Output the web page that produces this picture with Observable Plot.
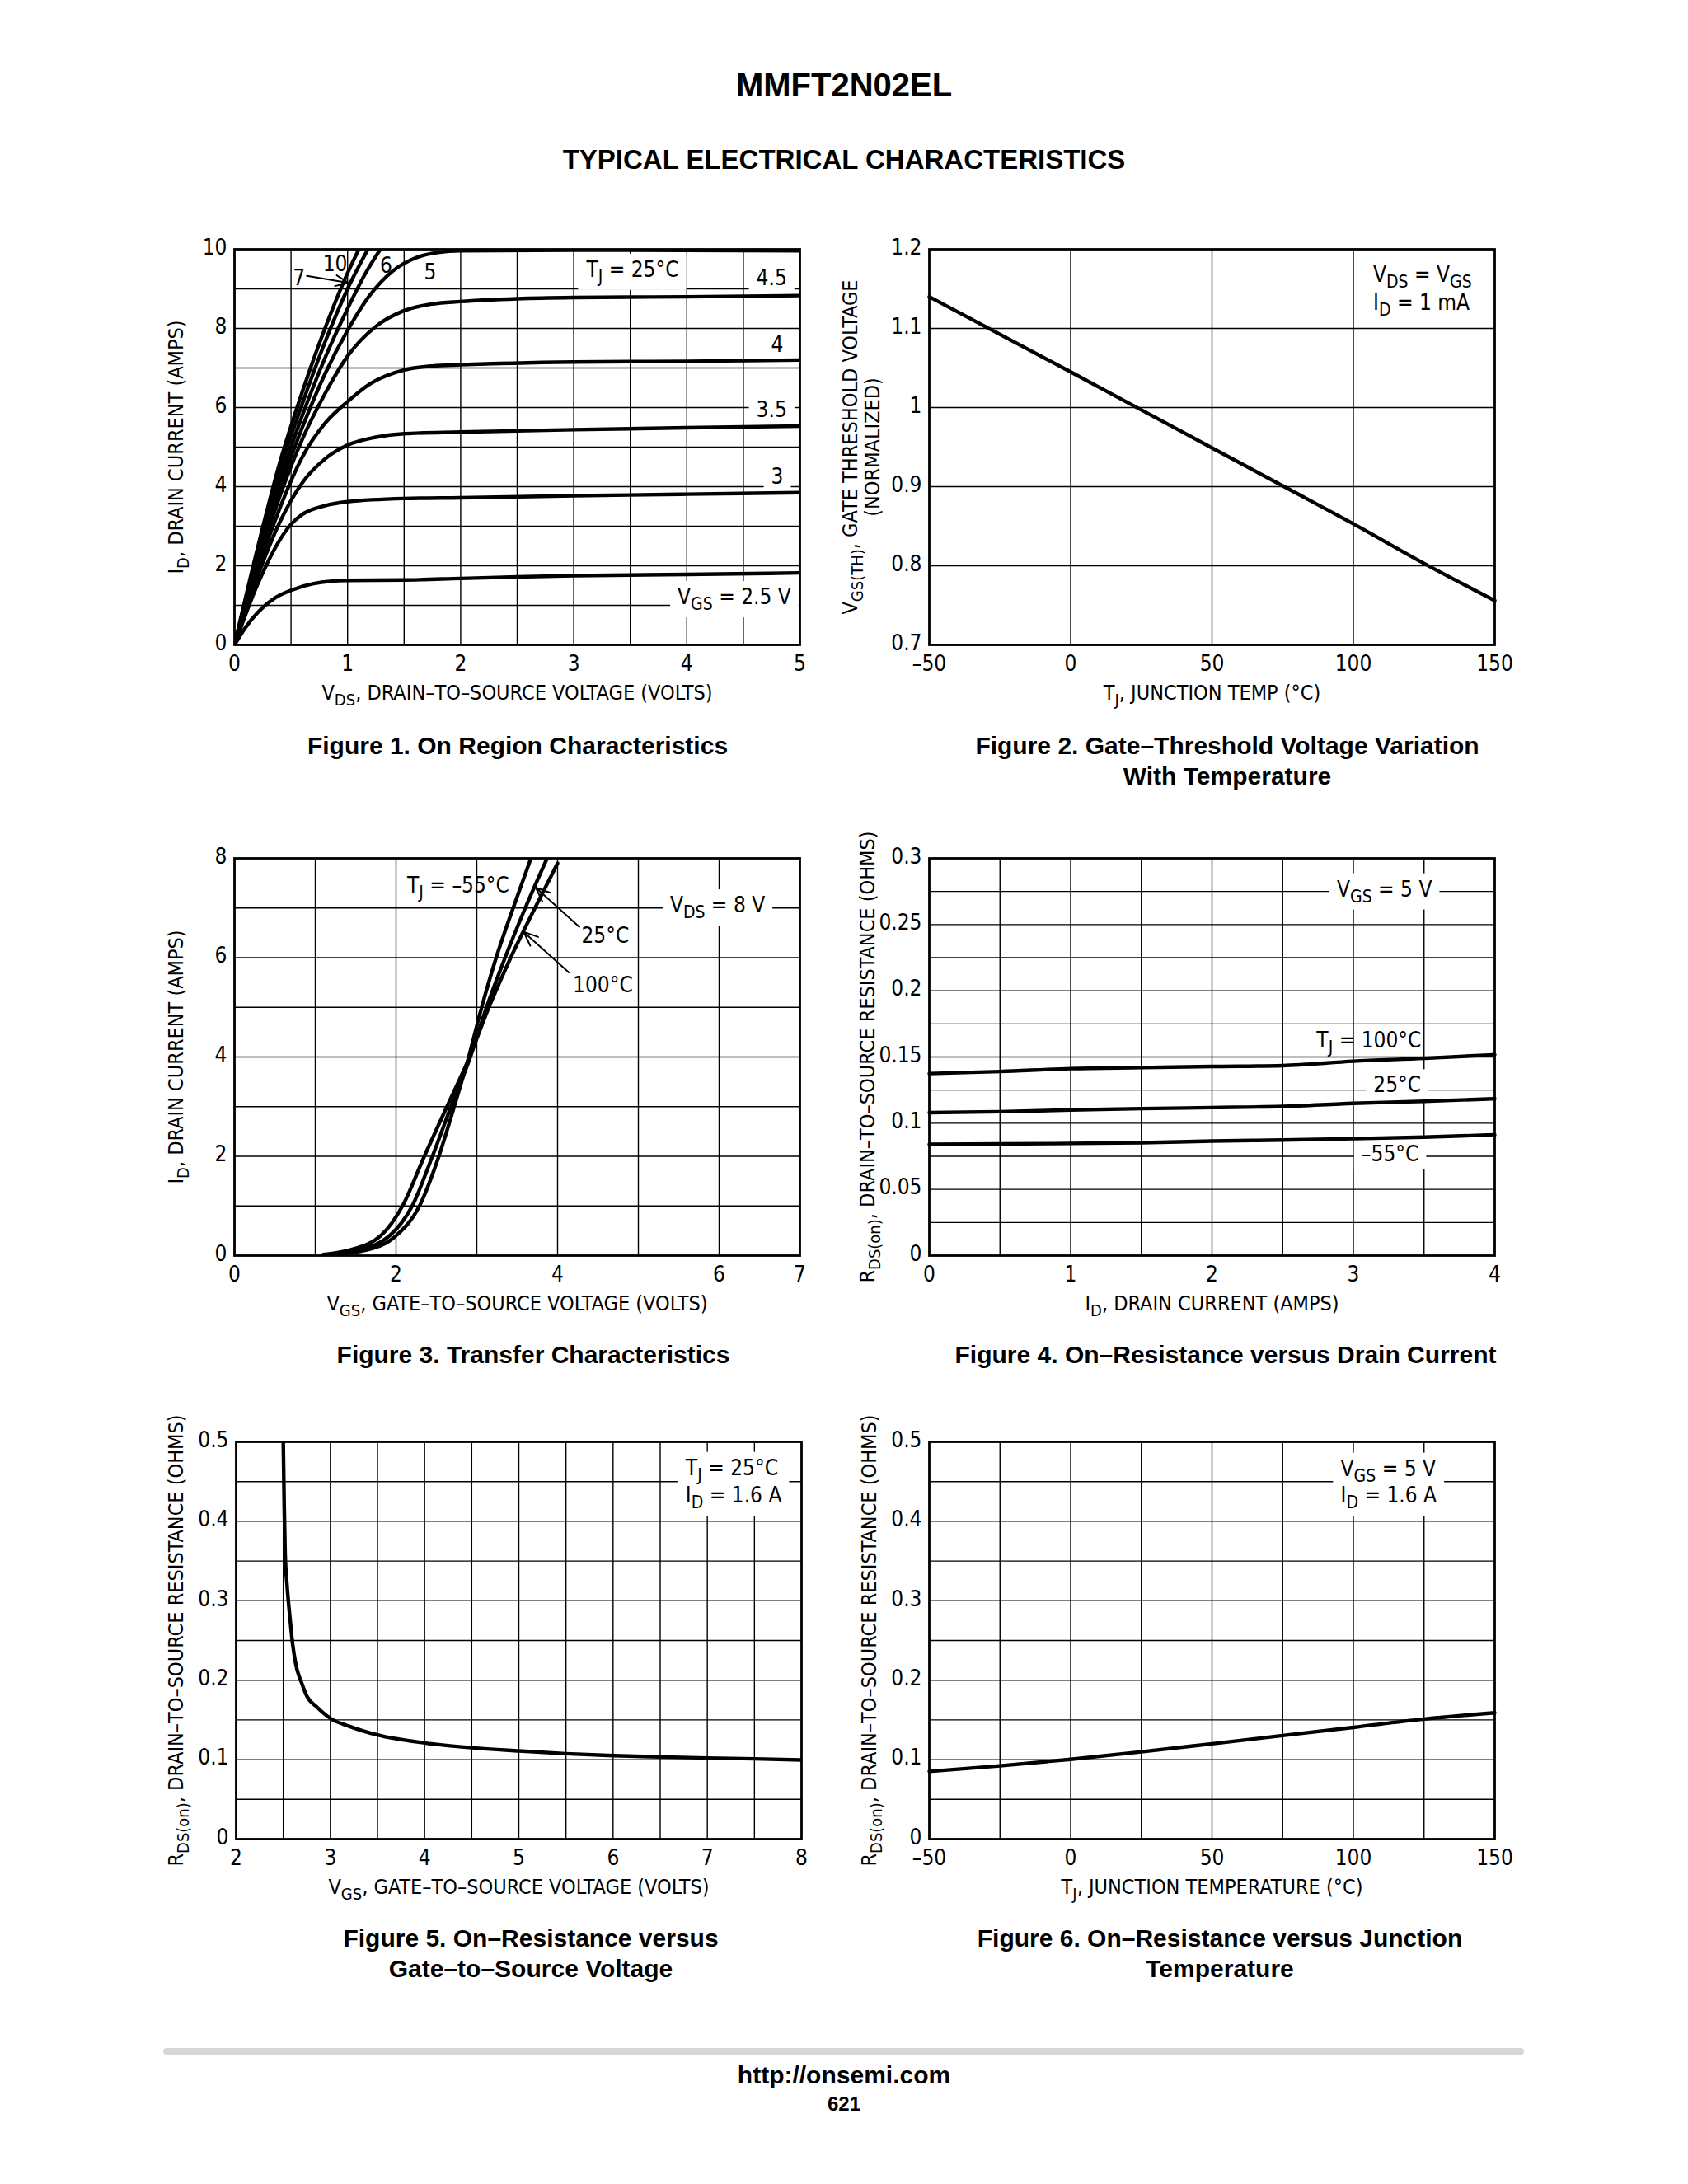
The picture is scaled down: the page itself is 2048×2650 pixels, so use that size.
<!DOCTYPE html>
<html><head><meta charset="utf-8">
<script src="https://cdn.jsdelivr.net/npm/d3@7"></script>
<script src="https://cdn.jsdelivr.net/npm/@observablehq/plot@0.6"></script>
<style>
body{margin:0;background:#fff;}
#page{position:relative;width:2048px;height:2650px;background:#fff;font-family:"Liberation Sans",Arial,Helvetica,sans-serif;color:#000;overflow:hidden;}
.ht{position:absolute;font-weight:bold;text-align:center;white-space:nowrap;transform:translateX(-50%);}
.chart{position:absolute;}
.chart svg{overflow:visible;display:block;}
</style></head><body><div id="page"></div>
<script>
// ---------- Figure 1 : On region characteristics (VDS, ID) per VGS ----------
const f1Series = ["10","7","6","5","4.5","4","3.5","3","2.5"];
const f1_10 = [[0,0],[0.2,2.4],[0.4,4.6],[0.6,6.4],[0.8,8.0],[1.0,9.4],[1.1,10]];
const f1_7  = [[0,0],[0.2,2.3],[0.4,4.4],[0.6,6.1],[0.8,7.65],[1.0,9.0],[1.18,10]];
const f1_6  = [[0,0],[0.2,2.2],[0.4,4.15],[0.6,5.8],[0.8,7.25],[1.0,8.5],[1.15,9.35],[1.29,10]];
const f1_5  = [[0,0],[0.2,2.1],[0.4,3.95],[0.6,5.5],[0.8,6.85],[1.0,7.95],[1.2,8.85],[1.4,9.45],[1.6,9.78],[1.8,9.92],[2.0,9.96],[3,9.98],[5,9.96]];
const f1_45 = [[0,0],[0.2,2.0],[0.4,3.75],[0.6,5.2],[0.8,6.35],[1.0,7.3],[1.25,8.05],[1.5,8.45],[1.75,8.62],[2,8.68],[2.5,8.75],[3,8.78],[4,8.8],[5,8.83]];
const f1_4  = [[0,0],[0.2,1.85],[0.4,3.45],[0.6,4.75],[0.8,5.6],[1.0,6.15],[1.2,6.6],[1.5,6.95],[1.75,7.05],[2,7.08],[3,7.15],[4,7.17],[5,7.2]];
const f1_35 = [[0,0],[0.2,1.7],[0.4,3.1],[0.6,4.1],[0.8,4.7],[1.0,5.05],[1.25,5.25],[1.5,5.34],[2,5.38],[3,5.44],[4,5.49],[5,5.53]];
const f1_3  = [[0,0],[0.2,1.5],[0.4,2.65],[0.5,3.05],[0.6,3.3],[0.8,3.52],[1.0,3.62],[1.5,3.7],[2,3.72],[3,3.77],[4,3.81],[5,3.85]];
const f1_25 = [[0,0],[0.1,0.45],[0.2,0.8],[0.36,1.19],[0.5,1.38],[0.7,1.55],[1.0,1.63],[1.5,1.64],[2,1.68],[2.5,1.72],[3,1.75],[4,1.78],[5,1.82]];
const f1Curves = [f1_10,f1_7,f1_6,f1_5,f1_45,f1_4,f1_35,f1_3,f1_25];
const f1XTicks = [0,1,2,3,4,5];
const f1YTicks = [0,2,4,6,8,10];
const f1XGrid = [0.5,1,1.5,2,2.5,3,3.5,4,4.5];
const f1YGrid = [1,2,3,4,5,6,7,8,9];
const f1Labels = [
  {x:0.89,y:9.62,t:"10",h:false},{x:0.57,y:9.26,t:"7",h:false},{x:1.34,y:9.57,t:"6",h:false},
  {x:1.73,y:9.42,t:"5",h:false},{x:3.52,y:9.48,t:"T_{J} = 25°C",h:true},{x:4.75,y:9.27,t:"4.5",h:true},
  {x:4.8,y:7.57,t:"4",h:false},{x:4.75,y:5.93,t:"3.5",h:true},{x:4.8,y:4.25,t:"3",h:true},
  {x:4.42,y:1.2,t:"V_{GS} = 2.5 V",h:true}];
const f1Arrows = [{x1:0.64,y1:9.33,x2:1.01,y2:9.15}];

// ---------- Figure 2 : Gate threshold vs temperature ----------
const f2Tj  = [-50,0,25,50,75,100,125,150];
const f2Vth = [1.14,1.045,0.997,0.949,0.901,0.853,0.803,0.756];
const f2XTicks = [-50,0,50,100,150];
const f2YTicks = [0.7,0.8,0.9,1,1.1,1.2];
const f2XGrid = [0,50,100];
const f2YGrid = [0.8,0.9,1,1.1];
const f2Labels = [{x:107,y:1.168,t:"V_{DS} = V_{GS}",h:false},{x:107,y:1.132,t:"I_{D} = 1 mA",h:false}];

// ---------- Figure 3 : Transfer characteristics ----------
const f3Series = ["100°C","25°C","−55°C"];
const f3_100 = [[1.1,0.02],[1.4,0.1],[1.81,0.4],[2.08,1],[2.35,2],[2.63,3],[2.91,4],[3.15,5],[3.42,6],[3.72,7],[4.0,7.9]];
const f3_25  = [[1.15,0.02],[1.5,0.1],[1.92,0.4],[2.2,1],[2.45,2],[2.68,3],[2.92,4],[3.12,5],[3.35,6],[3.6,7],[3.87,8]];
const f3_m55 = [[1.2,0.02],[1.6,0.1],[2.0,0.4],[2.29,1],[2.53,2],[2.72,3],[2.9,4],[3.06,5],[3.24,6],[3.45,7],[3.67,8]];
const f3Curves = [f3_100,f3_25,f3_m55];
const f3XTicks = [0,2,4,6,7];
const f3YTicks = [0,2,4,6,8];
const f3XGrid = [1,2,3,4,5,6];
const f3YGrid = [1,2,3,4,5,6,7];
const f3Labels = [{x:2.77,y:7.45,t:"T_{J} = –55°C",h:false},{x:4.59,y:6.43,t:"25°C",h:false},
  {x:4.56,y:5.44,t:"100°C",h:false},{x:5.98,y:7.05,t:"V_{DS} = 8 V",h:true}];
const f3Arrows = [{x1:4.27,y1:6.62,x2:3.73,y2:7.41},{x1:4.14,y1:5.7,x2:3.58,y2:6.52}];

// ---------- Figure 4 : On-resistance vs drain current ----------
const f4Id   = [0,0.5,1,1.5,2,2.5,3,3.5,4];
const f4_100 = [0.1375,0.139,0.1412,0.142,0.1428,0.1435,0.1468,0.149,0.1517];
const f4_25  = [0.108,0.1087,0.110,0.111,0.1118,0.1127,0.115,0.1165,0.1185];
const f4_m55 = [0.084,0.0843,0.0847,0.0853,0.0865,0.0873,0.0883,0.0895,0.0912];
const f4XTicks = [0,1,2,3,4];
const f4YTicks = [0,0.05,0.1,0.15,0.2,0.25,0.3];
const f4XGrid = [0.5,1,1.5,2,2.5,3,3.5];
const f4YGrid = [0.025,0.05,0.075,0.1,0.125,0.15,0.175,0.2,0.225,0.25,0.275];
const f4Labels = [{x:3.22,y:0.2765,t:"V_{GS} = 5 V",h:true},{x:3.11,y:0.1625,t:"T_{J} = 100°C",h:false},
  {x:3.31,y:0.1285,t:"25°C",h:true},{x:3.26,y:0.0765,t:"–55°C",h:true}];

// ---------- Figure 5 : On-resistance vs gate-to-source voltage ----------
const f5Vgs = [2.5,2.51,2.52,2.54,2.57,2.6,2.63,2.7,2.75,2.85,3.0,3.2,3.5,4,4.5,5,5.5,6,6.5,7,7.5,8];
const f5R   = [0.5,0.42,0.36,0.32,0.28,0.245,0.222,0.195,0.18,0.167,0.152,0.142,0.131,0.121,0.115,0.111,0.1075,0.105,0.1035,0.102,0.101,0.0995];
const f5XTicks = [2,3,4,5,6,7,8];
const f5YTicks = [0,0.1,0.2,0.3,0.4,0.5];
const f5XGrid = [2.5,3,3.5,4,4.5,5,5.5,6,6.5,7,7.5];
const f5YGrid = [0.05,0.1,0.15,0.2,0.25,0.3,0.35,0.4,0.45];
const f5Labels = [{x:6.77,y:0.467,t:"T_{J} = 25°C",h:true},{x:6.77,y:0.432,t:"I_{D} = 1.6 A",h:true}];

// ---------- Figure 6 : On-resistance vs junction temperature ----------
const f6Tj = [-50,-25,0,25,50,75,100,125,150];
const f6R  = [0.0852,0.0922,0.1004,0.1098,0.12,0.1303,0.1406,0.151,0.159];
const f6XTicks = [-50,0,50,100,150];
const f6YTicks = [0,0.1,0.2,0.3,0.4,0.5];
const f6XGrid = [-25,0,25,50,75,100,125];
const f6YGrid = [0.05,0.1,0.15,0.2,0.25,0.3,0.35,0.4,0.45];
const f6Labels = [{x:95.5,y:0.466,t:"V_{GS} = 5 V",h:true},{x:95.5,y:0.432,t:"I_{D} = 1.6 A",h:true}];

// ---------- page text ----------
const pageTitle = "MMFT2N02EL";
const pageSubtitle = "TYPICAL ELECTRICAL CHARACTERISTICS";
const captions = [
  ["Figure 1. On Region Characteristics"],
  ["Figure 2. Gate–Threshold Voltage Variation","With Temperature"],
  ["Figure 3. Transfer Characteristics"],
  ["Figure 4. On–Resistance versus Drain Current"],
  ["Figure 5. On–Resistance versus","Gate–to–Source Voltage"],
  ["Figure 6. On–Resistance versus Junction","Temperature"]];
const footer = ["http://onsemi.com","621"];

// ---------- rendering ----------
const page = document.getElementById("page");
const NS = "http://www.w3.org/2000/svg";
const CF = '"Liberation Sans Narrow","Arial Narrow","DejaVu Sans Condensed","Liberation Sans",Arial,sans-serif';
const FS = 26, TFS = 25;
const M = {l:140, r:40, t:60, b:100};
const fmt = d => d < 0 ? "–" + (-d) : String(d);
const rdsLabel = "R_{DS(on)}, DRAIN–TO–SOURCE RESISTANCE (OHMS)";

function subs(svg){
  svg.querySelectorAll("text").forEach(t=>{
    const targets = t.querySelector("tspan") ? [...t.querySelectorAll("tspan")] : [t];
    targets.forEach(el=>{
      const s = el.textContent; if(!s.includes("_{")) return;
      const fs = parseFloat(getComputedStyle(el).fontSize) || FS;
      const sh = Math.round(fs*0.27), sfs = Math.round(fs*0.8);
      el.textContent = "";
      const parts = s.split(/(_\{[^}]*\})/).filter(p=>p.length);
      let shifted = false;
      for(const p of parts){
        const ts = document.createElementNS(NS,"tspan");
        if(p.startsWith("_{")){ ts.textContent=p.slice(2,-1); ts.setAttribute("font-size",sfs); ts.setAttribute("dy",sh); shifted=true; }
        else { ts.textContent=p; if(shifted){ ts.setAttribute("dy",-sh); shifted=false; } }
        el.appendChild(ts);
      }
    });
  });
}
// white boxes behind labels that sit on grid lines (as in the datasheet):
// the white "halo" copy of each such label is swapped for a rectangle of its own bounding box
function boxes(svg){
  const halos = [...svg.querySelectorAll("text")].filter(t => {
    const f = getComputedStyle(t).fill;
    return f === "rgb(255, 255, 255)" || f === "white" || f === "#ffffff";
  });
  halos.forEach(t=>{
    let b; try { b = t.getBBox(); } catch(e) { return; }
    if (!b || !b.width) return;
    const r = document.createElementNS(NS,"rect");
    r.setAttribute("x", b.x-9); r.setAttribute("y", b.y-4);
    r.setAttribute("width", b.width+18); r.setAttribute("height", b.height+8);
    r.setAttribute("fill","white"); r.setAttribute("stroke","none");
    const tr = t.getAttribute("transform"); if(tr) r.setAttribute("transform", tr);
    t.parentNode.insertBefore(r, t);
    t.remove();
  });
}

function labelMarks(labels, anchor){
  const o = {x:"x", y:"y", text:"t", fontSize:FS, textAnchor:anchor||"middle"};
  return [
    Plot.text(labels.filter(d=>d.h), {...o, fill:"white", stroke:"white", strokeWidth:16, ariaLabel:"halo"}),
    Plot.text(labels, {...o, fill:"#000"})
  ];
}

function chart(c){
  const W = c.R - c.L, H = c.B - c.T;
  const gs = {stroke:"#000", strokeOpacity:1, strokeWidth:1.4};
  const lm = labelMarks(c.labels, c.anchor);
  const marks = [
    Plot.gridX(c.xGrid, gs),
    Plot.gridY(c.yGrid, gs),
    lm[0],
    ...c.marks,
    lm[1],
    Plot.frame({stroke:"#000", strokeWidth:2.8}),
    Plot.axisX({ticks:c.xTicks, tickSize:0, tickPadding:13, tickFormat:fmt, label:null, fontSize:FS}),
    Plot.axisY({ticks:c.yTicks, tickSize:0, tickPadding:9, tickFormat:fmt, label:null, fontSize:FS, dy:-2}),
    Plot.text([c.xTitle], {frameAnchor:"bottom", dy:58, text:d=>d, fontSize:TFS, lineAnchor:"middle", textAnchor:"middle"}),
    ...c.yTitles.map(([s,off]) => Plot.text([s], {frameAnchor:"left", dx:-off, rotate:-90, text:d=>d, fontSize:TFS, lineAnchor:"middle", textAnchor:"middle"}))
  ];
  const svg = Plot.plot({
    width: W + M.l + M.r, height: H + M.t + M.b,
    marginLeft:M.l, marginRight:M.r, marginTop:M.t, marginBottom:M.b,
    style:{fontSize:FS+"px", fontFamily:CF, background:"transparent", overflow:"visible", color:"#000"},
    x:{domain:c.xd, axis:null}, y:{domain:c.yd, axis:null},
    marks
  });
  const div = document.createElement("div");
  div.className = "chart";
  div.style.left = (c.L - M.l) + "px"; div.style.top = (c.T - M.t) + "px";
  div.style.width = (W + M.l + M.r) + "px";
  div.appendChild(svg); page.appendChild(div);
  subs(svg);
  boxes(svg);
}

const LW = 4.4;
const arrowOpts = {x1:"x1",y1:"y1",x2:"x2",y2:"y2",stroke:"#000",strokeWidth:2,headLength:14,headAngle:45};
// Figure 1
const f1Table = f1Curves.flatMap((arr,i)=>arr.map(([x,y])=>({x,y,s:f1Series[i]})));
chart({L:284,R:970,T:302,B:782, xd:[0,5], yd:[0,10], xTicks:f1XTicks, yTicks:f1YTicks, xGrid:f1XGrid, yGrid:f1YGrid,
  xTitle:"V_{DS}, DRAIN–TO–SOURCE VOLTAGE (VOLTS)", yTitles:[["I_{D}, DRAIN CURRENT (AMPS)",71]], labels:f1Labels,
  marks:[
    Plot.line(f1Table,{x:"x",y:"y",z:"s",stroke:"#000",strokeWidth:LW,curve:"monotone-x",clip:true}),
    Plot.arrow(f1Arrows,arrowOpts)
  ]});
// Figure 2
chart({L:1127,R:1813,T:302,B:782, xd:[-50,150], yd:[0.7,1.2], xTicks:f2XTicks, yTicks:f2YTicks, xGrid:f2XGrid, yGrid:f2YGrid,
  xTitle:"T_{J}, JUNCTION TEMP (°C)", yTitles:[["V_{GS(TH)}, GATE THRESHOLD VOLTAGE",96],["(NORMALIZED)",69]], labels:f2Labels, anchor:"start",
  marks:[
    Plot.line(f2Tj.map((x,i)=>({x,y:f2Vth[i]})),{x:"x",y:"y",stroke:"#000",strokeWidth:LW,curve:"monotone-x"})
  ]});
// Figure 3
const f3Table = f3Curves.flatMap((arr,i)=>arr.map(([x,y])=>({x,y,s:f3Series[i]})));
chart({L:284,R:970,T:1041,B:1523, xd:[0,7], yd:[0,8], xTicks:f3XTicks, yTicks:f3YTicks, xGrid:f3XGrid, yGrid:f3YGrid,
  xTitle:"V_{GS}, GATE–TO–SOURCE VOLTAGE (VOLTS)", yTitles:[["I_{D}, DRAIN CURRENT (AMPS)",71]], labels:f3Labels,
  marks:[
    Plot.line(f3Table,{x:"x",y:"y",z:"s",stroke:"#000",strokeWidth:LW,curve:"monotone-x",clip:true}),
    Plot.arrow(f3Arrows,arrowOpts)
  ]});
// Figure 4
const f4Table = [["100",f4_100],["25",f4_25],["-55",f4_m55]].flatMap(([s,arr])=>arr.map((y,i)=>({x:f4Id[i],y,s})));
chart({L:1127,R:1813,T:1041,B:1523, xd:[0,4], yd:[0,0.3], xTicks:f4XTicks, yTicks:f4YTicks, xGrid:f4XGrid, yGrid:f4YGrid,
  xTitle:"I_{D}, DRAIN CURRENT (AMPS)", yTitles:[[rdsLabel,75]], labels:f4Labels,
  marks:[
    Plot.line(f4Table,{x:"x",y:"y",z:"s",stroke:"#000",strokeWidth:LW,curve:"monotone-x"})
  ]});
// Figure 5
chart({L:286,R:972,T:1749,B:2231, xd:[2,8], yd:[0,0.5], xTicks:f5XTicks, yTicks:f5YTicks, xGrid:f5XGrid, yGrid:f5YGrid,
  xTitle:"V_{GS}, GATE–TO–SOURCE VOLTAGE (VOLTS)", yTitles:[[rdsLabel,73]], labels:f5Labels, anchor:"start",
  marks:[
    Plot.line(f5Vgs.map((x,i)=>({x,y:f5R[i]})),{x:"x",y:"y",stroke:"#000",strokeWidth:LW,curve:"monotone-x",clip:true})
  ]});
// Figure 6
chart({L:1127,R:1813,T:1749,B:2231, xd:[-50,150], yd:[0,0.5], xTicks:f6XTicks, yTicks:f6YTicks, xGrid:f6XGrid, yGrid:f6YGrid,
  xTitle:"T_{J}, JUNCTION TEMPERATURE (°C)", yTitles:[[rdsLabel,73]], labels:f6Labels, anchor:"start",
  marks:[
    Plot.line(f6Tj.map((x,i)=>({x,y:f6R[i]})),{x:"x",y:"y",stroke:"#000",strokeWidth:LW,curve:"monotone-x"})
  ]});

// HTML text
function htext(str, cx, cy, size, lh){
  const d = document.createElement("div");
  d.className = "ht";
  d.style.left = cx+"px"; d.style.fontSize = size+"px"; d.style.lineHeight = lh+"px";
  d.style.top = (cy - lh/2) + "px";
  d.textContent = str; page.appendChild(d);
}
htext(pageTitle, 1024, 103, 40, 48);
htext(pageSubtitle, 1024, 194, 33, 40);
const capPos = [[628,904],[1489,904],[647,1643],[1487,1643],[644,2351],[1480,2351]];
captions.forEach((lines,i)=>lines.forEach((s,j)=>htext(s, capPos[i][0], capPos[i][1]+j*37, 30, 37)));
const rule = document.createElement("div");
Object.assign(rule.style,{position:"absolute",left:"198px",top:"2485px",width:"1651px",height:"8px",background:"#d6d6d6",borderRadius:"4px"});
page.appendChild(rule);
htext(footer[0], 1024, 2518, 30, 34);
htext(footer[1], 1024, 2553, 24, 28);
</script></body></html>
